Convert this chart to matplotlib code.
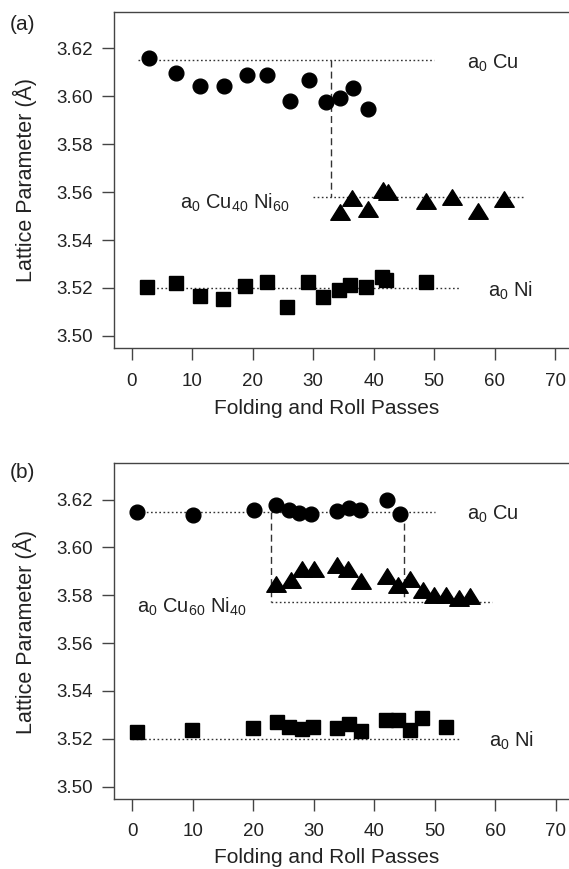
import matplotlib
matplotlib.use('Agg')
import matplotlib.pyplot as plt
from matplotlib.path import Path

plt.rcParams['font.family'] = ['Liberation Sans', 'DejaVu Sans']
plt.rcParams['mathtext.default'] = 'regular'

# ---------------- Panel (a) data ----------------
a_cu_x = [2.8, 7.3, 11.3, 15.2, 19.0, 22.3, 26.2, 29.3, 32.2, 34.4, 36.6, 39.0]
a_cu_y = [3.6162, 3.6098, 3.6042, 3.6042, 3.6087, 3.6090, 3.5981, 3.6067, 3.5977, 3.5993, 3.6033, 3.5949]
a_cuni_x = [34.4, 36.4, 39.0, 41.6, 42.3, 48.7, 52.9, 57.2, 61.6]
a_cuni_y = [3.5516, 3.5577, 3.5528, 3.5607, 3.5600, 3.5565, 3.5579, 3.5523, 3.5572]
a_ni_x = [2.6, 7.3, 11.3, 15.1, 18.7, 22.3, 25.7, 29.2, 31.7, 34.3, 36.1, 38.7, 41.4, 42.1, 48.7]
a_ni_y = [3.5205, 3.5219, 3.5168, 3.5154, 3.5210, 3.5223, 3.5122, 3.5226, 3.5164, 3.5192, 3.5214, 3.5203, 3.5247, 3.5233, 3.5226]

# reference levels (a)
a_cu_ref = 3.615; a_cu_span = [1, 50]
a_cuni_ref = 3.558; a_cuni_span = [30, 65]
a_ni_ref = 3.520; a_ni_span = [1.3, 54.3]
a_vlines = [33]

# ---------------- Panel (b) data ----------------
b_cu_x = [0.8, 10.0, 20.1, 23.7, 25.9, 27.5, 29.5, 33.9, 35.8, 37.7, 42.1, 44.2]
b_cu_y = [3.6150, 3.6137, 3.6158, 3.6176, 3.6158, 3.6144, 3.6141, 3.6151, 3.6165, 3.6155, 3.6200, 3.6141]
b_cuni_x = [23.7, 26.2, 28.1, 30.0, 33.9, 35.7, 37.8, 42.1, 43.9, 45.9, 48.1, 49.9, 51.8, 54.0, 55.9]
b_cuni_y = [3.5848, 3.5866, 3.5908, 3.5912, 3.5926, 3.5908, 3.5859, 3.5880, 3.5842, 3.5870, 3.5824, 3.5803, 3.5803, 3.5787, 3.5796]
b_ni_x = [0.8, 9.9, 19.9, 23.9, 26.0, 28.0, 29.9, 33.9, 35.9, 37.9, 41.9, 43.9, 45.9, 47.9, 51.8]
b_ni_y = [3.5230, 3.5235, 3.5245, 3.5271, 3.5250, 3.5242, 3.5251, 3.5245, 3.5263, 3.5233, 3.5279, 3.5279, 3.5235, 3.5286, 3.5249]

b_cu_ref = 3.615; b_cu_span = [1, 50]
b_cuni_ref = 3.577; b_cuni_span = [23, 59.5]
b_ni_ref = 3.520; b_ni_span = [0, 54.3]
b_vlines = [23, 45]

x_ticks = [0, 10, 20, 30, 40, 50, 60, 70]
y_ticks = [3.50, 3.52, 3.54, 3.56, 3.58, 3.60, 3.62]

W, H = 569, 869
fig = plt.figure(figsize=(W / 100, H / 100), dpi=100)

tri = Path([(-1, -0.8), (1, -0.8), (0, 0.8), (-1, -0.8)],
           [Path.MOVETO, Path.LINETO, Path.LINETO, Path.CLOSEPOLY])

SPC = '#444444'
TXT = '#222222'


def make_axes(left_px, top_px, bottom_px):
    right_px = left_px + 77 * 6.05
    ax = fig.add_axes([left_px / W, (H - bottom_px) / H,
                       (right_px - left_px) / W, (bottom_px - top_px) / H])
    ax.set_xlim(-3, 74)
    ax.set_ylim(3.4948, 3.6352)
    ax.set_xticks(x_ticks)
    ax.set_yticks(y_ticks)
    ax.set_yticklabels(['%.2f' % v for v in y_ticks])
    ax.spines['right'].set_visible(False)
    for s in ['left', 'top', 'bottom']:
        ax.spines[s].set_color(SPC)
        ax.spines[s].set_linewidth(1.0)
    ax.tick_params(axis='both', direction='out', length=8.5, width=1.0,
                   color=SPC, labelsize=13.5, labelcolor=TXT)
    ax.tick_params(axis='x', pad=9)
    ax.tick_params(axis='y', pad=6.5)
    return ax


def draw_panel(ax, cu_x, cu_y, cuni_x, cuni_y, ni_x, ni_y,
               cu_ref, cu_span, cuni_ref, cuni_span, ni_ref, ni_span, vlines):
    dot = dict(color='#333333', lw=1.0, ls=(0, (1.2, 1.8)))
    ax.plot(cu_span, [cu_ref, cu_ref], **dot)
    ax.plot(cuni_span, [cuni_ref, cuni_ref], **dot)
    ax.plot(ni_span, [ni_ref, ni_ref], **dot)
    for vx in vlines:
        ax.plot([vx, vx], [cu_ref, cuni_ref], color='#333333', lw=1.0,
                ls=(0, (5, 3)))
    ax.plot(cu_x, cu_y, 'o', ms=10.6, color='black', mec='black', zorder=3)
    ax.plot(cuni_x, cuni_y, marker=tri, ls='none', ms=14.0, color='black',
            mec='black', zorder=3)
    ax.plot(ni_x, ni_y, 's', ms=10.0, color='black', mec='black', zorder=3)


fs = 14.5

# Panel (a)
axa = make_axes(113.5, 12, 348.3)
draw_panel(axa, a_cu_x, a_cu_y, a_cuni_x, a_cuni_y, a_ni_x, a_ni_y,
           a_cu_ref, a_cu_span, a_cuni_ref, a_cuni_span, a_ni_ref, a_ni_span, a_vlines)
axa.text(55.4, 3.6116, 'a$_0$ Cu', fontsize=fs, va='baseline', ha='left', color=TXT)
axa.text(8.0, 3.5530, 'a$_0$ Cu$_{40}$ Ni$_{60}$', fontsize=fs, va='baseline', ha='left', color=TXT)
axa.text(58.9, 3.5164, 'a$_0$ Ni', fontsize=fs, va='baseline', ha='left', color=TXT)

# Panel (b)
axb = make_axes(114, 463.3, 799)
draw_panel(axb, b_cu_x, b_cu_y, b_cuni_x, b_cuni_y, b_ni_x, b_ni_y,
           b_cu_ref, b_cu_span, b_cuni_ref, b_cuni_span, b_ni_ref, b_ni_span, b_vlines)
axb.text(55.4, 3.6117, 'a$_0$ Cu', fontsize=fs, va='baseline', ha='left', color=TXT)
axb.text(0.74, 3.5727, 'a$_0$ Cu$_{60}$ Ni$_{40}$', fontsize=fs, va='baseline', ha='left', color=TXT)
axb.text(59.0, 3.5165, 'a$_0$ Ni', fontsize=fs, va='baseline', ha='left', color=TXT)

# Labels
for (yc, xb) in [(180, 414.3), (632, 863.3)]:
    fig.text(25 / W, 1 - yc / H, 'Lattice Parameter (Å)', rotation=90,
             ha='center', va='center', fontsize=15.5, color=TXT)
    fig.text(327 / W, 1 - xb / H, 'Folding and Roll Passes', ha='center',
             va='baseline', fontsize=15, color=TXT)

fig.text(22.5 / W, 1 - 24 / H, '(a)', ha='center', va='center', fontsize=15, color=TXT)
fig.text(22.5 / W, 1 - 473 / H, '(b)', ha='center', va='center', fontsize=15, color=TXT)

fig.savefig('out.png', dpi=100)
